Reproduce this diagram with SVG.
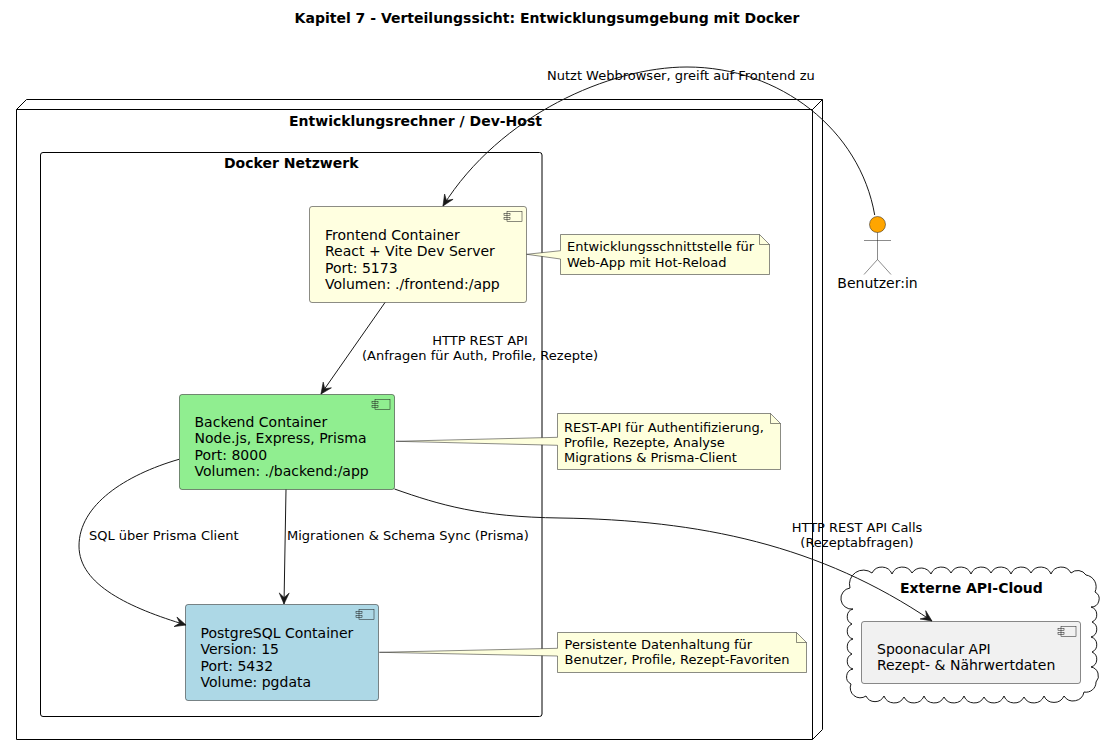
<svg xmlns="http://www.w3.org/2000/svg" width="1105" height="756" viewBox="0 0 1105 756">
<style>
text{font-family:"DejaVu Sans",sans-serif;fill:#000}
.b{font-size:14px;font-weight:bold}
.t{font-size:14px}
.s{font-size:13px}
.m{text-anchor:middle}
.c{stroke:#181818;stroke-width:.5}
.i{fill:none;stroke:#181818;stroke-width:.5}
.n{fill:#FEFFDD;stroke:#181818;stroke-width:.5}
.g{fill:none;stroke:#000;stroke-width:1}
.l{fill:none;stroke:#181818;stroke-width:1}
</style>
<defs>
<marker id="a" markerUnits="userSpaceOnUse" viewBox="0 0 13 12" markerWidth="13" markerHeight="12" refX="12" refY="6" orient="auto">
<path d="M12 6L1 1L5.5 6L1 11Z" fill="#181818" stroke="#181818" stroke-width=".6"/>
</marker>
<g id="ci"><rect x="-15" y="0" width="15" height="10" class="i"/><rect x="-18" y="2" width="6" height="2" class="i"/><rect x="-18" y="6" width="6" height="2" class="i"/></g>
</defs>
<rect width="1105" height="756" fill="#fff"/>
<text id="title" class="b m" x="547" y="23">Kapitel 7 - Verteilungssicht: Entwicklungsumgebung mit Docker</text>
<g id="dev-host">
<path class="g" d="M16.5 109.5L26.5 99.5H822.5V729.5L812.5 739.5H16.5ZM16.5 109.5H812.5V739.5M812.5 109.5L822.5 99.5"/>
<text class="b" x="289" y="126">Entwicklungsrechner / Dev-Host</text>
</g>
<g id="docker-netzwerk">
<rect class="g" x="40.5" y="152.5" width="501.5" height="564" rx="2.5"/>
<text class="b" x="224" y="168">Docker Netzwerk</text>
</g>
<g id="externe-api-cloud">
<path d="M850 588A14 14 0 0 1 872 573A11 11 0 0 1 892 574A11 11 0 0 1 912 573A11 11 0 0 1 931 574A11 11 0 0 1 951 573A11 11 0 0 1 971 574A11 11 0 0 1 991 573A11 11 0 0 1 1011 574A11 11 0 0 1 1031 573A11 11 0 0 1 1051 574A11 11 0 0 1 1071 573A10 10 0 0 1 1086 575A12 12 0 0 1 1095 592A8 8 0 0 1 1091 607A8 8 0 0 1 1092 622A8 8 0 0 1 1091 637A8 8 0 0 1 1092 652A8 8 0 0 1 1091 667A9 9 0 0 1 1096 682A10 10 0 0 1 1084 692A11 11 0 0 1 1064 696A11 11 0 0 1 1044 696A11 11 0 0 1 1024 697A11 11 0 0 1 1004 696A11 11 0 0 1 984 697A11 11 0 0 1 964 696A11 11 0 0 1 944 697A11 11 0 0 1 924 696A11 11 0 0 1 904 697A11 11 0 0 1 884 696A10 10 0 0 1 866 696A10 10 0 0 1 851 684A8 8 0 0 1 853 669A8 8 0 0 1 852 654A8 8 0 0 1 853 639A8 8 0 0 1 852 624A8 8 0 0 1 853 609A8 8 0 0 1 850 588Z" fill="#fff" stroke="#000" stroke-width=".9"/>
<text class="b" x="900" y="593">Externe API-Cloud</text>
</g>
<g id="frontend">
<rect class="c" x="309.5" y="206.5" width="217" height="96" rx="2.5" fill="#FFFFE0"/>
<use href="#ci" x="522" y="211.5"/>
<text class="t" x="325" y="240">Frontend Container</text>
<text class="t" x="325" y="256">React + Vite Dev Server</text>
<text class="t" x="325" y="273">Port: 5173</text>
<text class="t" x="325" y="289">Volumen: ./frontend:/app</text>
</g>
<g id="backend">
<rect class="c" x="179.5" y="394.5" width="215" height="95" rx="2.5" fill="#90EE90"/>
<use href="#ci" x="390" y="399.5"/>
<text class="t" x="194.5" y="427">Backend Container</text>
<text class="t" x="194.5" y="443">Node.js, Express, Prisma</text>
<text class="t" x="194.5" y="460">Port: 8000</text>
<text class="t" x="194.5" y="476">Volumen: ./backend:/app</text>
</g>
<g id="postgres">
<rect class="c" x="185.5" y="604.5" width="193" height="96" rx="2.5" fill="#ADD8E6"/>
<use href="#ci" x="374" y="609.5"/>
<text class="t" x="200.5" y="638">PostgreSQL Container</text>
<text class="t" x="200.5" y="654">Version: 15</text>
<text class="t" x="200.5" y="671">Port: 5432</text>
<text class="t" x="200.5" y="687">Volume: pgdata</text>
</g>
<g id="spoonacular">
<rect class="c" x="861.5" y="621.5" width="219" height="62" rx="2.5" fill="#F1F1F1"/>
<use href="#ci" x="1076" y="626.5"/>
<text class="t" x="877" y="654">Spoonacular API</text>
<text class="t" x="877" y="670">Rezept- &amp; Nährwertdaten</text>
</g>
<g id="benutzer">
<circle cx="877.5" cy="224.5" r="8" fill="#FFA500" stroke="#181818" stroke-width=".5"/>
<path class="i" d="M877.5 232.5V259.5M864 240.5H891M877.5 259.5L864 274.5M877.5 259.5L891 274.5"/>
<text class="t m" x="877.5" y="288">Benutzer:in</text>
</g>
<g id="note-frontend">
<path class="n" d="M526.7 254.3L560.5 250.7V234.5H759.5L769.5 244.5V274.5H560.5V259Z"/>
<path class="i" d="M759.5 234.5V244.5H769.5"/>
<text class="s" x="567" y="251">Entwicklungsschnittstelle für</text>
<text class="s" x="567" y="267">Web-App mit Hot-Reload</text>
</g>
<g id="note-backend">
<path class="n" d="M396 441.3L557.5 437.3V413.5H770.5L780.5 423.5V469.5H557.5V445.3Z"/>
<path class="i" d="M770.5 413.5V423.5H780.5"/>
<text class="s" x="564" y="432">REST-API für Authentifizierung,</text>
<text class="s" x="564" y="447">Profile, Rezepte, Analyse</text>
<text class="s" x="564" y="462">Migrations &amp; Prisma-Client</text>
</g>
<g id="note-postgres">
<path class="n" d="M379.3 652.3L557.5 648.3V632.5H796.5L806.5 642.5V672.5H557.5V656Z"/>
<path class="i" d="M796.5 632.5V642.5H806.5"/>
<text class="s" x="564.5" y="649">Persistente Datenhaltung für</text>
<text class="s" x="564.5" y="664">Benutzer, Profile, Rezept-Favoriten</text>
</g>
<g id="connectors">
<path class="l" marker-end="url(#a)" d="M874.7 215C860 130 780 67 687 67C610 67 500 115 443 206"/>
<path class="l" marker-end="url(#a)" d="M385 302.5L321 394"/>
<path class="l" marker-end="url(#a)" d="M286 489.5L284 604"/>
<path class="l" marker-end="url(#a)" d="M179 459.3C125 475 79 505 79 546C79 585 130 608 186 625"/>
<path class="l" marker-end="url(#a)" d="M394.5 489C440 505 480 517 560 518C700 520 820 545 932 621"/>
</g>
<g id="labels">
<text class="s" x="547" y="80">Nutzt Webbrowser, greift auf Frontend zu</text>
<text class="s m" x="480" y="345">HTTP REST API</text>
<text class="s m" x="480" y="360">(Anfragen für Auth, Profile, Rezepte)</text>
<text class="s" x="89" y="540">SQL über Prisma Client</text>
<text class="s" x="287" y="540">Migrationen &amp; Schema Sync (Prisma)</text>
<text class="s m" x="857" y="532">HTTP REST API Calls</text>
<text class="s m" x="857" y="547">(Rezeptabfragen)</text>
</g>
</svg>
